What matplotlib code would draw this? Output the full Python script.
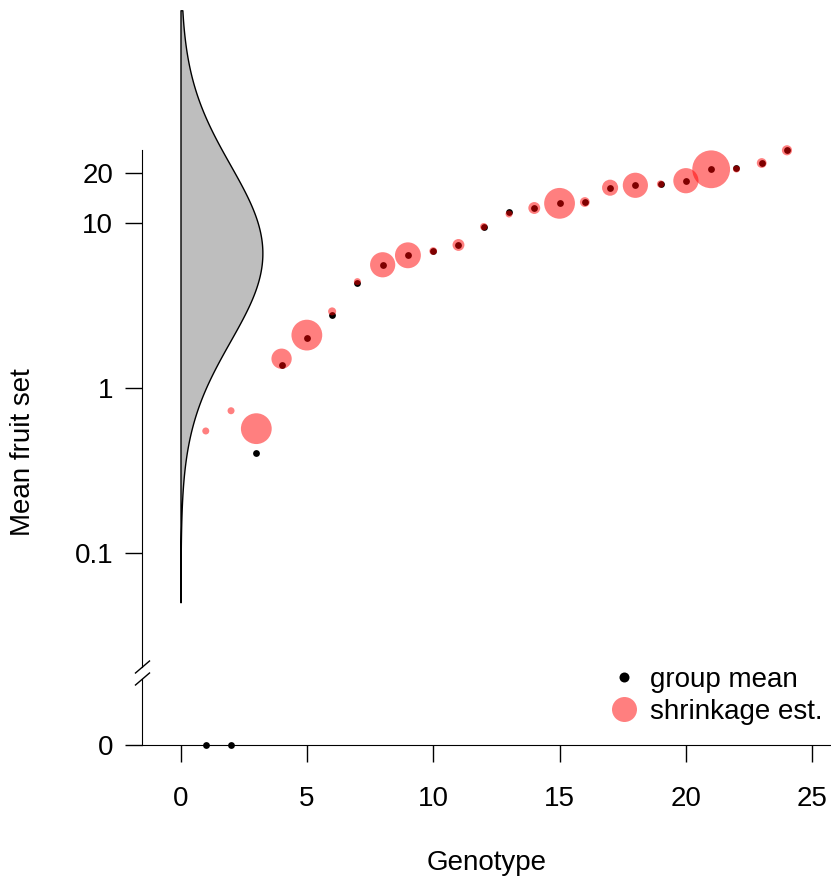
import numpy as np
import matplotlib
matplotlib.use("Agg")
import matplotlib.pyplot as plt
from matplotlib.lines import Line2D

plt.rcParams['font.family'] = ['Liberation Sans', 'DejaVu Sans']

# ---------------- data ----------------
genotype = list(range(1, 25))
group_mean = [0, 0, 0.404, 1.383, 2.02, 2.77, 4.33, 5.58, 6.37, 6.76, 7.36, 9.50,
              11.66, 12.33, 13.16, 13.40, 16.37, 16.93, 17.23, 18.05, 21.17, 21.7,
              23.11, 27.6]
shrinkage_est = [0.548, 0.727, 0.566, 1.503, 2.09, 2.91, 4.41, 5.58, 6.37, 6.76, 7.36,
                 9.50, 11.34, 12.33, 13.16, 13.40, 16.37, 16.93, 17.23, 18.05, 21.17,
                 21.25, 23.11, 27.6]
# relative symbol size of the shrinkage estimates (amount of data per genotype)
sample_weight = [1.0, 1.0, 4.4, 2.9, 4.4, 1.15, 1.0, 3.6, 3.7, 1.1, 1.7, 1.05,
                 1.0, 1.7, 4.4, 1.4, 2.3, 3.6, 1.05, 3.6, 5.4, 1.0, 1.4, 1.45]
# population (prior) distribution on log10 scale
pop_log_mean = 0.818
pop_log_sd = 0.535
pop_log_range = (-1.30, 2.29)
x_ticks = [0, 5, 10, 15, 20, 25]
y_ticks = [0.1, 1, 10, 20]
y_ticklabels = ["0.1", "1", "10", "20"]

# ---------------- layout (pixels) ----------------
W, H = 831, 882
DPI = 100
fig = plt.figure(figsize=(W / DPI, H / DPI), dpi=DPI)

def fx(px):
    return px / W

def fy(py):
    return 1 - py / H

x0_px, ppu = 180.5, 25.27          # pixel of x=0, pixels per unit
left_px, right_px = 142, 831
xlim = ((left_px - x0_px) / ppu, (right_px - x0_px) / ppu)

# log part
top_bottom_px = 667
dec_px, one_px = 164.9, 387.9
ylim_top = (10 ** ((one_px - top_bottom_px) / dec_px), 10 ** (one_px / dec_px))
axT = fig.add_axes([fx(left_px), fy(top_bottom_px), fx(right_px - left_px), top_bottom_px / H])
axT.set_yscale('log')
axT.set_xlim(*xlim)
axT.set_ylim(*ylim_top)
for s in ['top', 'right', 'bottom']:
    axT.spines[s].set_visible(False)
axT.spines['left'].set_bounds(ylim_top[0], max(max(group_mean), max(shrinkage_est)))
axT.set_xticks([])
axT.set_yticks(y_ticks)
axT.set_yticklabels(y_ticklabels)
axT.yaxis.set_minor_locator(matplotlib.ticker.NullLocator())
axT.tick_params(axis='y', length=12.2, width=1, pad=8.6, labelsize=20)
axT.patch.set_alpha(0)

# zero part
bot_top_px, zero_px, bot_bottom_px = 679, 745, 775
frac = (bot_bottom_px - zero_px) / (zero_px - bot_top_px)
axB = fig.add_axes([fx(left_px), fy(bot_bottom_px), fx(right_px - left_px),
                    (bot_bottom_px - bot_top_px) / H])
axB.set_xlim(*xlim)
axB.set_ylim(-frac, 1.0)
for s in ['top', 'right']:
    axB.spines[s].set_visible(False)
axB.spines['bottom'].set_position(('data', 0))
axB.spines['left'].set_bounds(0, 1.0)
axB.set_yticks([0])
axB.set_yticklabels(["0"])
axB.set_xticks(x_ticks)
axB.set_xticklabels([str(t) for t in x_ticks])
axB.tick_params(axis='both', length=12.2, width=1, labelsize=20)
axB.tick_params(axis='y', pad=8.6)
axB.tick_params(axis='x', pad=17)
axB.set_xlabel("Genotype", fontsize=20, labelpad=28)
axB.patch.set_alpha(0)

# ---------------- density ----------------
lg = np.linspace(pop_log_range[0], pop_log_range[1], 500)
dens = np.exp(-0.5 * ((lg - pop_log_mean) / pop_log_sd) ** 2)
peak_width = 3.24
axT.fill_betweenx(10 ** lg, 0, peak_width * dens, facecolor='#BEBEBE',
                  edgecolor='black', linewidth=1.0, zorder=1)

# ---------------- points ----------------
g = np.array(genotype)
gm = np.array(group_mean, dtype=float)
se = np.array(shrinkage_est, dtype=float)
w = np.array(sample_weight, dtype=float)
black_s = (6.8 * 0.72) ** 2
pos = gm > 0
axT.scatter(g[pos], gm[pos], s=black_s, color='black', linewidths=0, zorder=3)
axB.scatter(g[~pos], gm[~pos], s=black_s, color='black', linewidths=0, zorder=5,
            clip_on=False)
axT.scatter(g, se, s=(w * 7 * 0.72) ** 2, color='red', alpha=0.5, linewidths=0,
            zorder=4)

# ---------------- axis break marks ----------------
for yc in (667, 679):
    fig.add_artist(Line2D([fx(135.5), fx(149.5)], [fy(yc + 6), fy(yc - 6)],
                          color='black', linewidth=1.0))

# ---------------- labels & legend ----------------
fig.text(fx(23), fy(452), "Mean fruit set", rotation=90, ha='center', va='center',
         fontsize=20)

handles = [Line2D([], [], marker='o', ls='', color='black', markersize=10 * 0.72,
                  markeredgewidth=0),
           Line2D([], [], marker='o', ls='', color='red', alpha=0.5,
                  markersize=25 * 0.72, markeredgewidth=0)]
fig.legend(handles, ["group mean", "shrinkage est."], loc='upper left',
           bbox_to_anchor=(fx(610), fy(667)), frameon=False, fontsize=20,
           handlelength=1.0, handletextpad=0.43, borderpad=0, borderaxespad=0,
           labelspacing=0.22)

fig.savefig("out.png", dpi=DPI)
